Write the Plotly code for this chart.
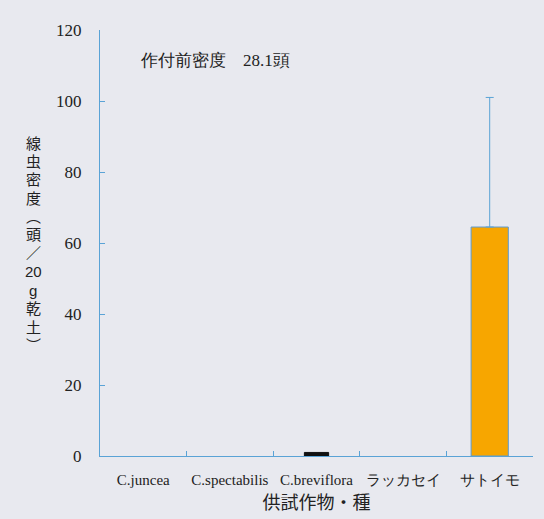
import plotly.graph_objects as go

# Crops / species tested and nematode density after cropping
categories = ["C.juncea", "C.spectabilis", "C.breviflora", "ラッカセイ", "サトイモ"]
density = [0, 0, 1, 0, 64.5]
err_plus = [None, None, None, None, 36.5]
bar_colors = ["#f7a600", "#f7a600", "#111111", "#f7a600", "#f7a600"]
edge_colors = ["#5b9bd5", "#5b9bd5", "#111111", "#5b9bd5", "#5b9bd5"]
edge_widths = [0, 0, 1, 0, 1]
bar_widths = [0.43, 0.43, 0.28, 0.43, 0.43]
y_ticks = [0, 20, 40, 60, 80, 100, 120]

# Vertical (tategaki) y-axis title, one glyph per row
ytitle_chars = ["線", "虫", "密", "度", "︵", "頭", "／", "20", "g", "乾", "土", "︶"]
ytitle_top, ytitle_step = 143, 18.4

axis_blue = "#5aa3d6"
bg = "#e8e9ef"
serif = "Liberation Serif"
gothic = "Noto Sans CJK JP"
# compact line box (Latin metrics) while CJK glyphs fall back to Noto Sans CJK
gothic_compact = "Liberation Sans, Noto Sans CJK JP"

W, H = 544, 519
L, R, T, B = 100, 11, 30, 63
plot_h = H - T - B
plot_w = W - L - R

fig = go.Figure()
fig.add_trace(go.Bar(
    x=categories,
    y=density,
    width=bar_widths,
    marker=dict(color=bar_colors, line=dict(color=edge_colors, width=edge_widths)),
    showlegend=False,
))

# Upper error bar only where a deviation exists (transparent carrier bar)
err_idx = [i for i, e in enumerate(err_plus) if e is not None]
fig.add_trace(go.Bar(
    x=[categories[i] for i in err_idx],
    y=[density[i] for i in err_idx],
    width=[bar_widths[i] for i in err_idx],
    marker=dict(color="rgba(0,0,0,0)", line=dict(width=0)),
    error_y=dict(type="data", symmetric=False,
                 array=[err_plus[i] for i in err_idx], arrayminus=[0] * len(err_idx),
                 color=axis_blue, thickness=1, width=4),
    showlegend=False, hoverinfo="skip",
))

for i, ch in enumerate(ytitle_chars):
    py = ytitle_top + i * ytitle_step
    fig.add_annotation(
        xref="paper", yref="paper",
        x=(33 - L) / plot_w, y=(H - B - py) / plot_h,
        text=ch, showarrow=False, xanchor="center", yanchor="middle",
        borderpad=0,
        font=dict(family=gothic_compact, size=15, color="#222"),
    )

# Initial density note
fig.add_annotation(
    xref="paper", yref="y", x=(138 - L) / plot_w, y=111.3, xanchor="left",
    text="作付前密度　28.1頭", showarrow=False,
    font=dict(family=serif, size=17, color="#222"),
)

fig.update_layout(
    width=W, height=H,
    margin=dict(l=L, r=R, t=T, b=B),
    paper_bgcolor=bg, plot_bgcolor=bg,
    barmode="overlay",
    xaxis=dict(
        showline=True, linecolor=axis_blue, linewidth=1,
        ticks="inside", tickson="boundaries", ticklen=5, tickcolor=axis_blue,
        tickfont=dict(family=serif, size=15, color="#222"),
        ticklabelstandoff=10,
        showgrid=False, zeroline=False,
        title=dict(text="供試作物・種", font=dict(family=gothic, size=18, color="#222"),
                   standoff=8),
    ),
    yaxis=dict(
        range=[0, 120], tickvals=y_ticks,
        showline=True, linecolor=axis_blue, linewidth=1,
        ticks="inside", ticklen=5, tickcolor=axis_blue,
        tickfont=dict(family=serif, size=17, color="#222"),
        ticklabelstandoff=14,
        showgrid=False, zeroline=False,
    ),
)

fig.write_html("out.html")
